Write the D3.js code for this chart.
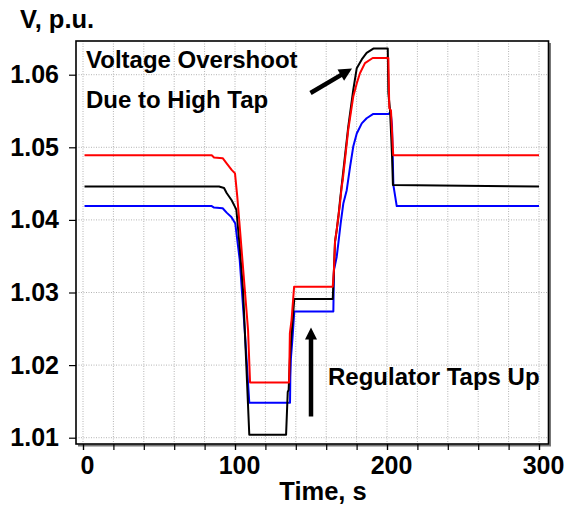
<!DOCTYPE html>
<html>
<head>
<meta charset="utf-8">
<script src="https://cdn.jsdelivr.net/npm/d3@7"></script>
<style>
  html, body { margin: 0; padding: 0; background: #fff; }
  svg { display: block; }
  text { font-family: "Liberation Sans", Arial, sans-serif; font-weight: bold; fill: #000; }
</style>
</head>
<body>
<svg id="chart" width="580" height="511"></svg>
<script>
// ---- data ----
const xTicks = [0, 100, 200, 300];
const xMinorTicks = [0, 20, 40, 60, 80, 100, 120, 140, 160, 180, 200, 220, 240, 260, 280, 300];
const yTicks = [1.01, 1.02, 1.03, 1.04, 1.05, 1.06];
const yTickLabels = ["1.01", "1.02", "1.03", "1.04", "1.05", "1.06"];

const redTime = [1, 84.7, 86.2, 91.9, 94.5, 97.8, 100, 101.5, 103.3, 108.6, 109.9, 135.6, 136.1, 137.2, 138.9, 164.3, 165.1, 165.8, 166.9, 168, 169.1, 170.2, 170.9, 174.5, 177.8, 180.1, 182.2, 185.5, 190.6, 200.9, 201.5, 202.6, 203.5, 204.1, 300];
const redVolt = [1.0489, 1.0489, 1.0486, 1.0485, 1.0478, 1.0469, 1.0464, 1.0432, 1.0386, 1.0248, 1.0176, 1.0176, 1.0244, 1.0262, 1.0308, 1.0308, 1.0331, 1.0370, 1.0386, 1.0404, 1.0423, 1.0446, 1.0455, 1.0524, 1.0570, 1.0588, 1.0602, 1.0616, 1.0623, 1.0623, 1.0554, 1.0551, 1.0514, 1.0489, 1.0489];

const blackTime = [1, 89.5, 92.8, 94.5, 97.8, 100, 100.9, 103.1, 105.3, 107.3, 109.4, 133.6, 134.7, 135.3, 136.2, 137, 139, 164.3, 165.1, 165.8, 166.9, 168, 169.1, 174.5, 177.8, 180.1, 183.4, 186.6, 191, 200.5, 200.9, 202, 202.8, 203.3, 203.9, 300];
const blackVolt = [1.0446, 1.0446, 1.0444, 1.0437, 1.0427, 1.0418, 1.0414, 1.0363, 1.0303, 1.0207, 1.0104, 1.0104, 1.0163, 1.0166, 1.0212, 1.0237, 1.0291, 1.0291, 1.0331, 1.0370, 1.0386, 1.0404, 1.0427, 1.0528, 1.0579, 1.0609, 1.0621, 1.0630, 1.0636, 1.0636, 1.0575, 1.0551, 1.0514, 1.0489, 1.0448, 1.0446];

const blueTime = [1, 84.7, 86.2, 91.9, 94.5, 97.6, 100.2, 103.1, 106.4, 109.4, 136.2, 136.4, 136.8, 137.9, 139, 164.7, 165.1, 166.9, 168, 169.5, 171.3, 173.5, 175.7, 177.8, 180.1, 183.4, 186.6, 191, 201, 202.4, 203.3, 204.2, 206.4, 300];
const blueVolt = [1.0419, 1.0419, 1.0417, 1.0416, 1.0410, 1.0404, 1.0395, 1.0345, 1.0248, 1.0148, 1.0148, 1.0184, 1.0210, 1.0239, 1.0274, 1.0274, 1.0331, 1.0349, 1.0368, 1.0395, 1.0423, 1.0441, 1.0473, 1.0501, 1.0519, 1.0533, 1.0540, 1.0546, 1.0546, 1.0548, 1.0530, 1.0448, 1.0419, 1.0419];

const series = [
  { name: "blue", color: "#0000ff", t: blueTime, v: blueVolt },
  { name: "black", color: "#000000", t: blackTime, v: blackVolt },
  { name: "red", color: "#ff0000", t: redTime, v: redVolt }
];

const yLabel = "V, p.u.";
const xLabel = "Time, s";
const note1 = ["Voltage Overshoot", "Due to High Tap"];
const note2 = "Regulator Taps Up";

// ---- layout ----
const svg = d3.select("#chart");
const frame = { left: 76, top: 41, right: 548.5, bottom: 444 };
const x = d3.scaleLinear().domain([0, 300]).range([83, 539]);
const y = d3.scaleLinear().domain([1.01, 1.06]).range([437.7, 74.7]);
const FS_TICK = 25;
const FS_TITLE = 25.5;
const FS_NOTE = 24;

// grid
const grid = svg.append("g");
grid.selectAll("line.v").data(xMinorTicks).enter().append("line")
  .attr("x1", d => x(d)).attr("x2", d => x(d))
  .attr("y1", frame.top).attr("y2", frame.bottom)
  .attr("stroke", "#b4b4b4").attr("stroke-width", 1).attr("stroke-dasharray", "1,1.5");
grid.selectAll("line.h").data(yTicks).enter().append("line")
  .attr("x1", frame.left).attr("x2", frame.right)
  .attr("y1", d => y(d)).attr("y2", d => y(d))
  .attr("stroke", "#b4b4b4").attr("stroke-width", 1).attr("stroke-dasharray", "1,1.5");

// series
const line = d3.line().x(d => x(d[0])).y(d => y(d[1]));
series.forEach(s => {
  const pts = s.t.map((t, i) => [t, s.v[i]]);
  svg.append("path").datum(pts)
    .attr("d", line)
    .attr("fill", "none")
    .attr("stroke", s.color)
    .attr("stroke-width", 2)
    .attr("stroke-linejoin", "round");
});

// frame (with shadow on right/bottom)
svg.append("line").attr("x1", frame.right + 1.5).attr("x2", frame.right + 1.5)
  .attr("y1", frame.top + 2).attr("y2", frame.bottom + 1.5)
  .attr("stroke", "#777").attr("stroke-width", 2);
svg.append("line").attr("x1", frame.left + 2).attr("x2", frame.right + 2.5)
  .attr("y1", frame.bottom + 1.5).attr("y2", frame.bottom + 1.5)
  .attr("stroke", "#777").attr("stroke-width", 2);
svg.append("rect")
  .attr("x", frame.left).attr("y", frame.top)
  .attr("width", frame.right - frame.left).attr("height", frame.bottom - frame.top)
  .attr("fill", "none").attr("stroke", "#000").attr("stroke-width", 1.6);

// y axis
const yAxis = d3.axisLeft(y).tickValues(yTicks).tickSize(7).tickFormat((d, i) => yTickLabels[i]);
const gy = svg.append("g").attr("transform", `translate(${frame.left},0)`).call(yAxis);
gy.select(".domain").remove();
gy.selectAll(".tick line").attr("stroke", "#000").attr("stroke-width", 1.2);
gy.selectAll(".tick text").attr("font-size", FS_TICK).attr("x", -17)
  .style("font-family", '"Liberation Sans", Arial, sans-serif').style("font-weight", "bold");

// x axis
const xAxisMinor = d3.axisBottom(x).tickValues(xMinorTicks).tickSize(6).tickFormat("");
const gxm = svg.append("g").attr("transform", `translate(0,${frame.bottom})`).call(xAxisMinor);
gxm.select(".domain").remove();
gxm.selectAll(".tick line").attr("stroke", "#000").attr("stroke-width", 1.2);
const xAxis = d3.axisBottom(x).tickValues(xTicks).tickSize(6).tickFormat(d3.format("d"));
const gx = svg.append("g").attr("transform", `translate(0,${frame.bottom})`).call(xAxis);
gx.select(".domain").remove();
gx.selectAll(".tick line").attr("stroke", "#000").attr("stroke-width", 1.2);
gx.selectAll(".tick text").attr("font-size", FS_TICK).attr("y", 12).attr("dx", 4)
  .style("font-family", '"Liberation Sans", Arial, sans-serif').style("font-weight", "bold");

// axis titles
svg.append("text").attr("x", 20).attr("y", 28).attr("font-size", FS_TITLE).text(yLabel);
svg.append("text").attr("x", 323).attr("y", 500).attr("font-size", FS_TITLE)
  .attr("text-anchor", "middle").text(xLabel);

// annotations
svg.append("text").attr("x", 86).attr("y", 68).attr("font-size", FS_NOTE).text(note1[0]);
svg.append("text").attr("x", 86).attr("y", 108).attr("font-size", FS_NOTE).text(note1[1]);
svg.append("text").attr("x", 328).attr("y", 385).attr("font-size", FS_NOTE).text(note2);

// arrows
function arrow(x1, y1, x2, y2, w, headL, headW) {
  const dx = x2 - x1, dy = y2 - y1, L = Math.hypot(dx, dy);
  const ux = dx / L, uy = dy / L, px = -uy, py = ux;
  const bx = x2 - ux * headL, by = y2 - uy * headL;
  svg.append("line").attr("x1", x1).attr("y1", y1).attr("x2", bx + ux).attr("y2", by + uy)
    .attr("stroke", "#000").attr("stroke-width", w);
  svg.append("path")
    .attr("d", `M${x2},${y2}L${bx + px * headW / 2},${by + py * headW / 2}L${bx - px * headW / 2},${by - py * headW / 2}Z`)
    .attr("fill", "#000");
}
arrow(310.5, 93, 352, 68.5, 4.5, 13, 13);
arrow(311, 416.5, 311, 327.5, 4.5, 12, 12);
</script>
</body>
</html>
